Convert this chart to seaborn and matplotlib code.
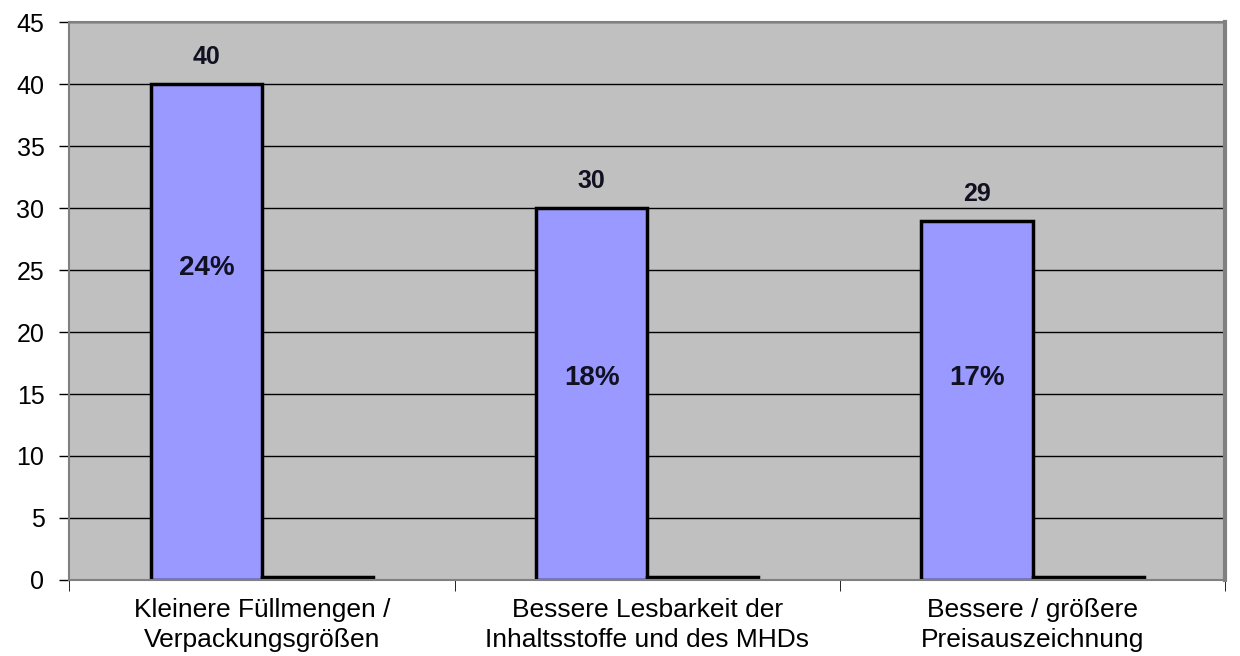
import pandas as pd
import matplotlib.pyplot as plt
import seaborn as sns

# Chart data
categories = ['Kleinere Füllmengen /\nVerpackungsgrößen',
              'Bessere Lesbarkeit der\nInhaltsstoffe und des MHDs',
              'Bessere / größere\nPreisauszeichnung']
counts = [40, 30, 29]
second_series = [0.2, 0.2, 0.2]
percent_labels = ['24%', '18%', '17%']
percent_y = [25.2, 16.3, 16.3]

data = pd.DataFrame({
    'category': categories * 2,
    'value': counts + second_series,
    'series': ['Anzahl'] * 3 + ['Anteil'] * 3,
})

sns.set_style('white')
plt.rcParams['font.family'] = ['Liberation Sans', 'DejaVu Sans']
plt.rcParams['text.color'] = 'black'
plt.rcParams['xtick.color'] = 'black'
plt.rcParams['ytick.color'] = 'black'

fig = plt.figure(figsize=(12.4, 6.56), dpi=100)
ax = fig.add_axes([0.056, 0.116, 0.932, 0.85])
ax.set_facecolor('#c0c0c0')

sns.barplot(data=data, x='category', y='value', hue='series',
            palette=['#9999ff', '#000000'], width=0.577, saturation=1,
            edgecolor='black', linewidth=2.5, legend=False, ax=ax)

ax.set_ylim(0, 45)
ax.set_xlim(-0.5, 2.5)
ax.set_yticks(range(0, 46, 5))
ax.yaxis.grid(True, color='black', linewidth=1)
ax.set_axisbelow(True)

# value labels above bars, percentages inside
bars = ax.containers[0]
for bar, v, p, py in zip(bars, counts, percent_labels, percent_y):
    cx = bar.get_x() + bar.get_width() / 2
    ax.text(cx, v + 1.2, str(v), ha='center', va='bottom',
            fontsize=18, fontweight='bold', color='#111122')
    ax.text(cx, py, p, ha='center', va='center',
            fontsize=20, fontweight='bold', color='#111122')

ax.set_xlabel('')
ax.set_ylabel('')
ax.tick_params(axis='y', labelsize=18, length=7, width=1,
               left=True, direction='out', pad=11)
ax.tick_params(axis='x', labelsize=19, length=0, pad=13)
for lab in ax.get_xticklabels():
    lab.set_linespacing(1.3)
ax.set_xticks([-0.5, 0.5, 1.5, 2.5], minor=True)
ax.tick_params(axis='x', which='minor', length=8, bottom=True)

for side in ['left', 'bottom', 'top']:
    ax.spines[side].set_color('#808080')
    ax.spines[side].set_linewidth(1.5)
ax.spines['right'].set_color('#808080')
ax.spines['right'].set_linewidth(3)

plt.savefig('out.png', dpi=100)
